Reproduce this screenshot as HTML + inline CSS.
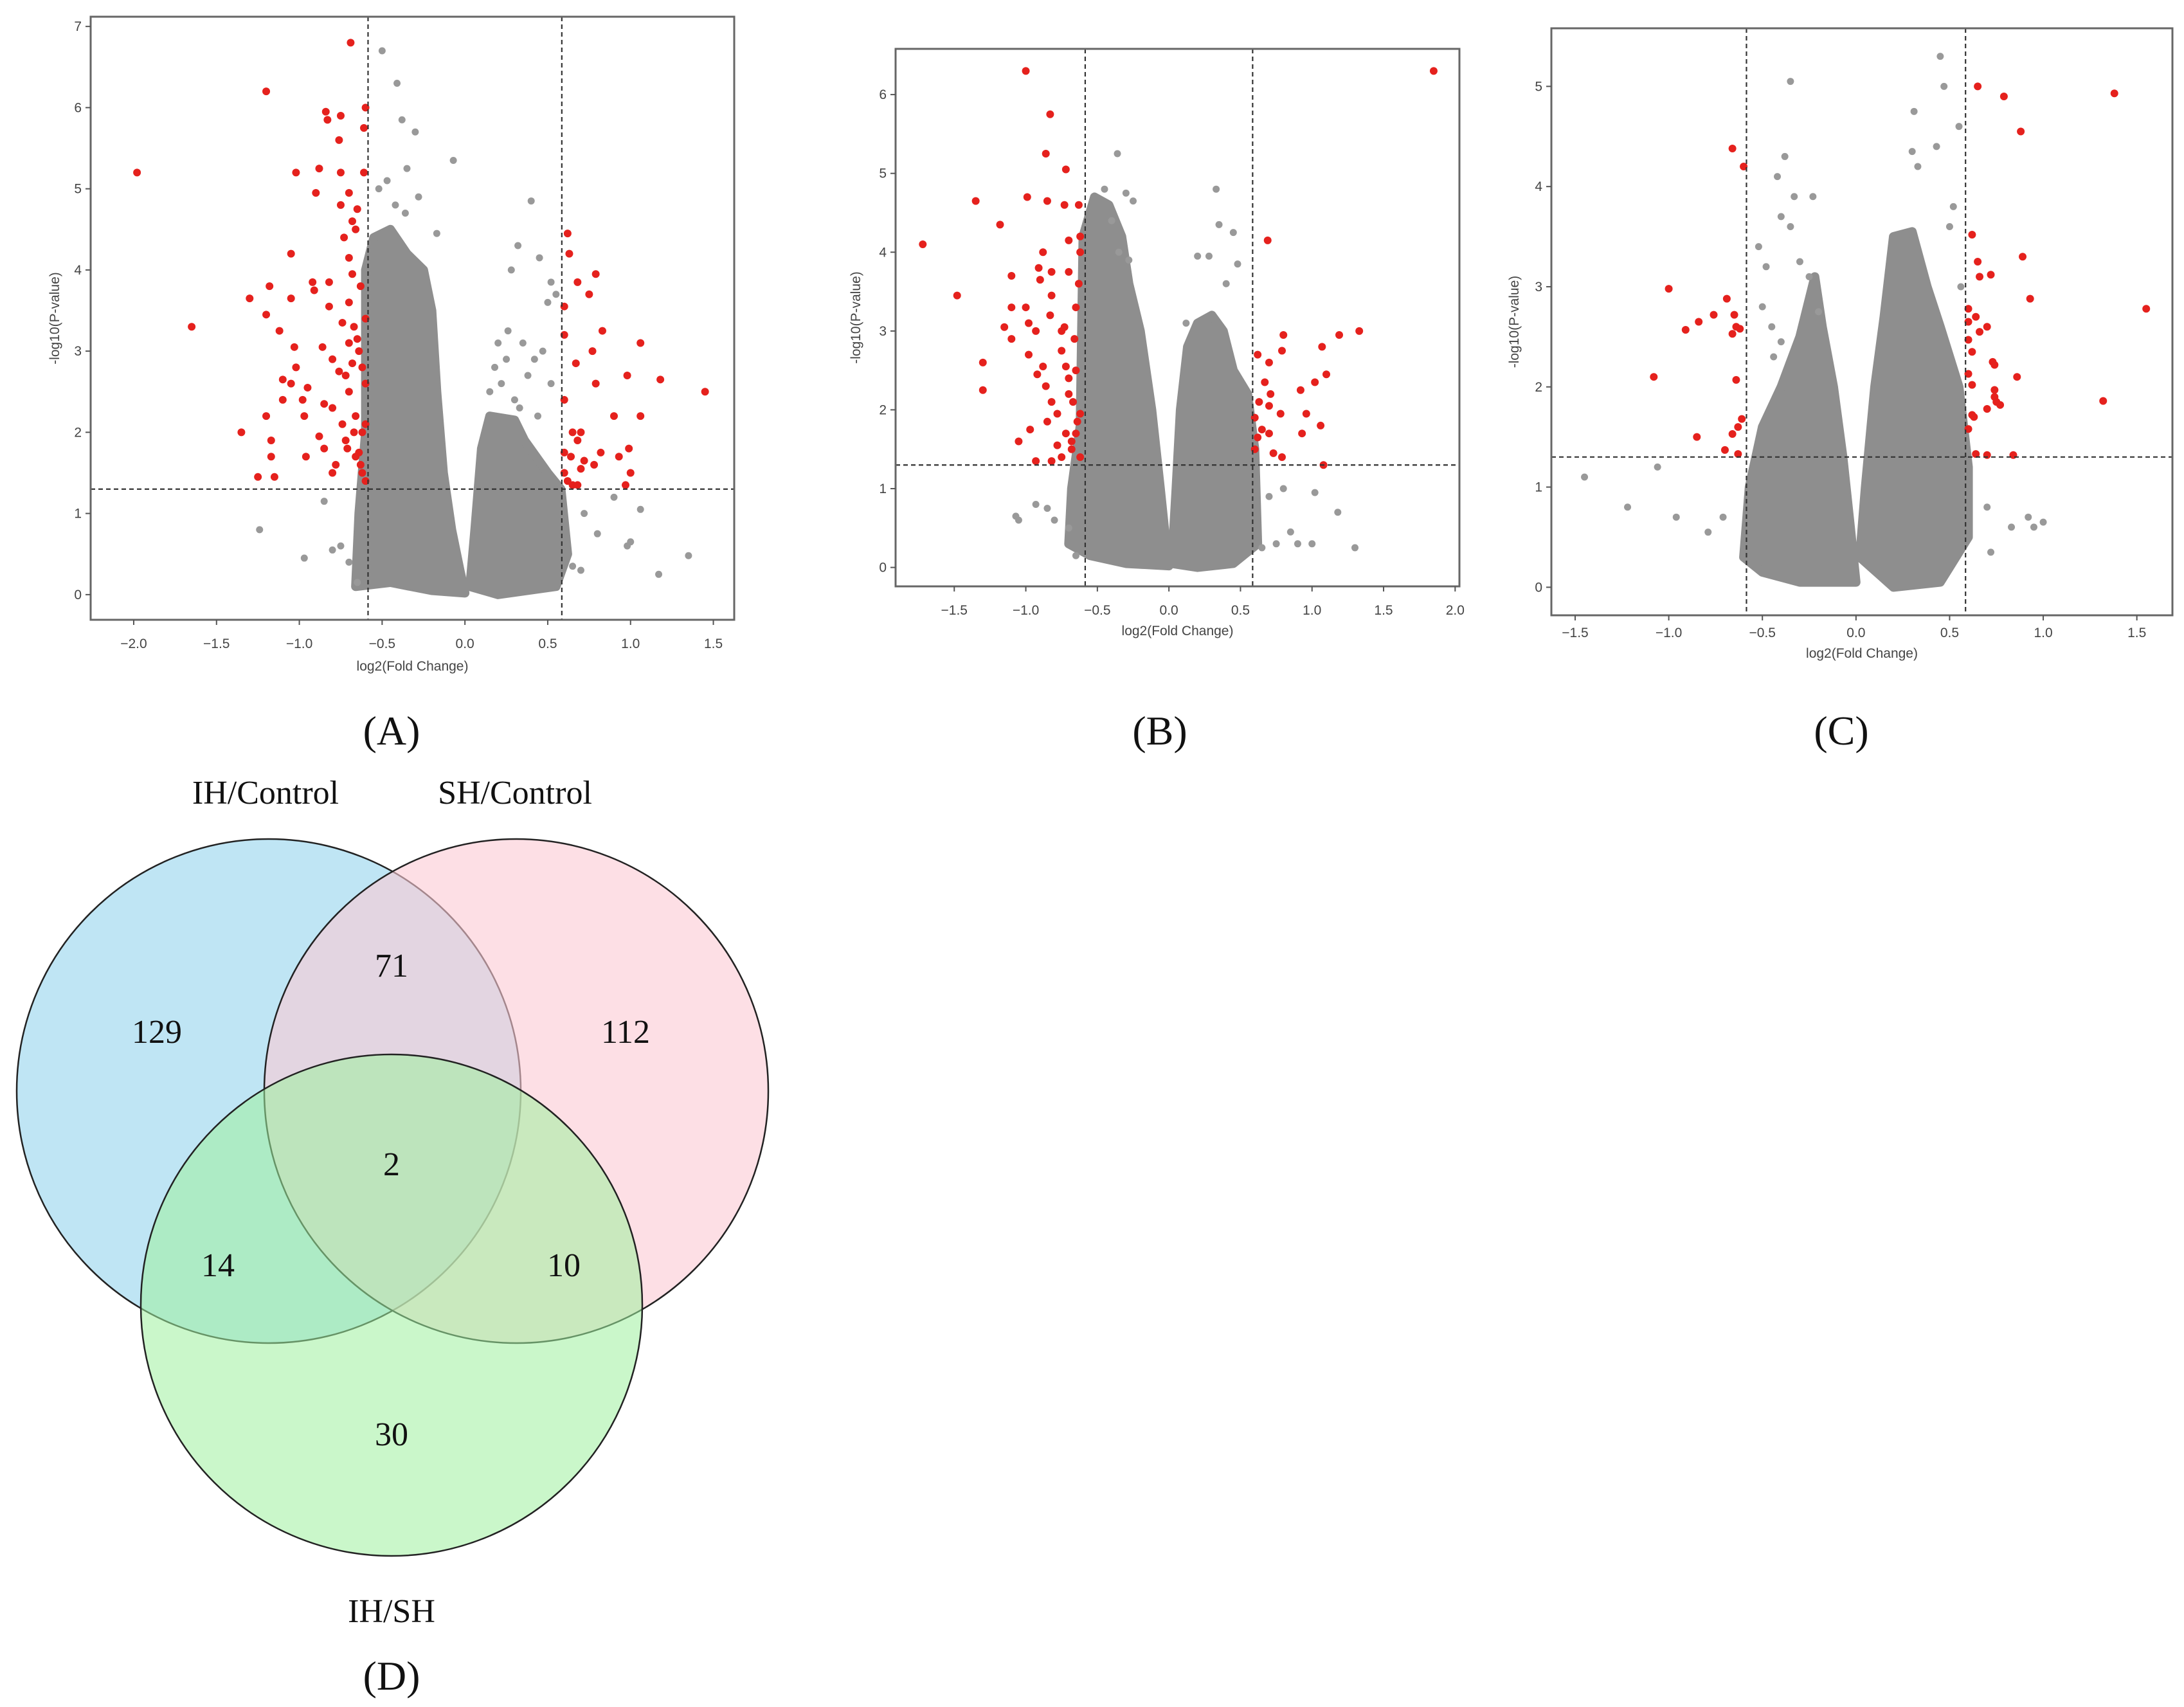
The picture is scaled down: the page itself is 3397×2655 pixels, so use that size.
<!DOCTYPE html>
<html><head><meta charset="utf-8"><style>
html,body{margin:0;padding:0;background:#fff}
svg{display:block}
</style></head><body>
<svg id="fig" width="3397" height="2655" viewBox="0 0 3397 2655" xmlns="http://www.w3.org/2000/svg">
<rect width="3397" height="2655" fill="#fff"/>
<g id="venn">
 <circle cx="418" cy="1697" r="392" fill="#a9dcf0" fill-opacity="0.75" stroke="#222" stroke-width="2.5"/>
 <circle cx="803" cy="1697" r="392" fill="#fbc9d3" fill-opacity="0.6" stroke="#222" stroke-width="2.5"/>
 <circle cx="609" cy="2030" r="390" fill="#9ef09e" fill-opacity="0.55" stroke="#222" stroke-width="2.5"/>
 <g font-family="Liberation Serif, serif" font-size="52" text-anchor="middle" fill="#111">
  <text x="413" y="1250">IH/Control</text>
  <text x="801" y="1250">SH/Control</text>
  <text x="609" y="2523">IH/SH</text>
  <text x="244" y="1622">129</text>
  <text x="609" y="1519">71</text>
  <text x="973" y="1622">112</text>
  <text x="609" y="1828">2</text>
  <text x="339" y="1985">14</text>
  <text x="877" y="1985">10</text>
  <text x="609" y="2248">30</text>
 </g>
</g>
<g font-family="Liberation Serif, serif" font-size="64" text-anchor="middle" fill="#111">
 <text x="609" y="1158">(A)</text>
 <text x="1804" y="1158">(B)</text>
 <text x="2864" y="1158">(C)</text>
 <text x="609" y="2628">(D)</text>
</g>
</svg>
<script>
// ---- Panel A data ----
const aRedX=[-1.98,-1.2,-0.69,-1.65,-1.35,-1.3,-1.25,-1.2,-1.2,-1.18,-1.17,-1.17,-1.15,-1.12,-1.1,-1.1,-1.05,-1.05,-1.05,-1.03,-1.02,-1.02,-0.98,-0.97,-0.96,-0.95,-0.92,-0.91,-0.9,-0.88,-0.88,-0.86,-0.85,-0.85,-0.84,-0.83,-0.82,-0.82,-0.8,-0.8,-0.8,-0.78,-0.76,-0.75,-0.75,-0.75,-0.74,-0.73,-0.72,-0.7,-0.7,-0.7,-0.7,-0.68,-0.68,-0.67,-0.66,-0.66,-0.65,-0.65,-0.63,-0.62,-0.62,-0.6,-0.61,-0.61,-0.6,-0.6,-0.6,-0.6,-0.64,-0.66,-0.7,-0.72,-0.76,-0.62,-0.64,-0.68,-0.71,-0.74,-0.63,-0.67,0.62,0.63,0.68,0.79,0.75,0.6,0.6,0.83,1.06,0.77,0.67,0.98,1.18,1.45,0.79,0.6,0.9,1.06,0.65,0.7,0.68,0.6,0.82,0.93,0.99,0.72,0.78,0.64,0.7,1.0,0.97,0.62,0.65,0.68,0.6];
const aRedY=[5.2,6.2,6.8,3.3,2.0,3.65,1.45,3.45,2.2,3.8,1.9,1.7,1.45,3.25,2.65,2.4,4.2,3.65,2.6,3.05,5.2,2.8,2.4,2.2,1.7,2.55,3.85,3.75,4.95,5.25,1.95,3.05,2.35,1.8,5.95,5.85,3.85,3.55,2.9,2.3,1.5,1.6,5.6,5.2,4.8,5.9,3.35,4.4,2.7,4.95,4.15,3.6,2.5,4.6,3.95,2.0,4.5,1.7,3.15,4.75,3.8,2.8,1.5,6.0,5.75,5.2,3.4,2.6,2.1,1.4,3.0,2.2,3.1,1.9,2.75,2.0,1.75,2.85,1.8,2.1,1.6,3.3,4.45,4.2,3.85,3.95,3.7,3.55,3.2,3.25,3.1,3.0,2.85,2.7,2.65,2.5,2.6,2.4,2.2,2.2,2.0,2.0,1.9,1.75,1.75,1.7,1.8,1.65,1.6,1.7,1.55,1.5,1.35,1.4,1.35,1.35,1.5];
const aGreyX=[-0.5,-0.41,-0.38,-0.3,-0.07,-0.35,-0.28,-0.17,0.4,0.32,0.45,0.52,0.55,0.5,0.26,0.28,0.35,0.42,0.18,0.2,0.52,-1.24,-0.97,-0.8,-0.65,-0.7,0.8,1.0,1.06,0.98,1.17,1.35,0.7,0.65,0.72,0.9,-0.85,-0.75,0.15,0.3,0.22,0.38,0.47,0.33,0.25,0.44,-0.47,-0.42,-0.36,-0.52];
const aGreyY=[6.7,6.3,5.85,5.7,5.35,5.25,4.9,4.45,4.85,4.3,4.15,3.85,3.7,3.6,3.25,4.0,3.1,2.9,2.8,3.1,2.6,0.8,0.45,0.55,0.15,0.4,0.75,0.65,1.05,0.6,0.25,0.48,0.3,0.35,1.0,1.2,1.15,0.6,2.5,2.4,2.6,2.7,3.0,2.3,2.9,2.2,5.1,4.8,4.7,5.0];
const aLeftLobe=[[-0.66,0.1],[-0.64,1.0],[-0.6,2.0],[-0.6,4.0],[-0.55,4.4],[-0.45,4.5],[-0.35,4.2],[-0.25,4.0],[-0.2,3.5],[-0.17,2.5],[-0.13,1.5],[-0.08,0.8],[-0.03,0.3],[0,0.02],[-0.2,0.05],[-0.45,0.15]];
const aRightLobe=[[0.03,0.1],[0.06,0.8],[0.1,1.8],[0.15,2.2],[0.3,2.15],[0.36,1.9],[0.5,1.5],[0.58,1.3],[0.62,0.5],[0.55,0.1],[0.2,0.0]];
const aXTicks=[-2.0,-1.5,-1.0,-0.5,0.0,0.5,1.0,1.5];
const aYTicks=[0,1,2,3,4,5,6,7];
// ---- Panel B data ----
const bRedX=[1.85,-1.0,-0.83,-0.86,-0.72,-0.99,-1.35,-0.85,-0.73,-0.63,-1.18,-1.72,-0.7,-0.62,0.69,-0.88,-0.62,-1.1,-0.91,-0.82,-0.7,-0.9,-1.48,-0.82,-1.1,-1.0,-0.83,-0.65,-1.15,-0.98,-0.93,-0.75,-1.1,-0.98,-0.75,-1.3,-0.88,-0.72,-0.65,-0.92,-1.3,-0.86,-0.7,-0.82,-0.67,-0.78,-0.62,-0.85,-0.97,-0.72,-0.65,-1.05,-0.78,-0.68,-0.75,-0.62,-0.93,-0.82,-0.63,-0.66,-0.7,-0.64,-0.68,-0.73,0.8,1.19,1.33,1.07,0.79,0.62,0.7,1.1,0.67,1.02,0.92,0.71,0.63,0.7,0.78,0.96,0.6,1.06,0.65,0.7,0.93,0.62,0.73,0.79,1.08,0.6];
const bRedY=[6.3,6.3,5.75,5.25,5.05,4.7,4.65,4.65,4.6,4.6,4.35,4.1,4.15,4.2,4.15,4.0,4.0,3.7,3.8,3.75,3.75,3.65,3.45,3.45,3.3,3.3,3.2,3.3,3.05,3.1,3.0,3.0,2.9,2.7,2.75,2.6,2.55,2.55,2.5,2.45,2.25,2.3,2.2,2.1,2.1,1.95,1.95,1.85,1.75,1.7,1.7,1.6,1.55,1.5,1.4,1.4,1.35,1.35,3.6,2.9,2.4,1.85,1.6,3.05,2.95,2.95,3.0,2.8,2.75,2.7,2.6,2.45,2.35,2.35,2.25,2.2,2.1,2.05,1.95,1.95,1.9,1.8,1.75,1.7,1.7,1.65,1.45,1.4,1.3,1.5];
const bGreyX=[-0.36,0.33,0.35,0.45,-0.45,-0.3,-0.25,0.2,0.28,0.48,0.4,-0.93,-1.07,-1.05,-0.85,-0.8,0.65,0.75,0.85,0.9,1.0,1.18,1.3,0.7,0.8,1.02,-0.7,-0.65,-0.4,-0.35,-0.28,0.12];
const bGreyY=[5.25,4.8,4.35,4.25,4.8,4.75,4.65,3.95,3.95,3.85,3.6,0.8,0.65,0.6,0.75,0.6,0.25,0.3,0.45,0.3,0.3,0.7,0.25,0.9,1.0,0.95,0.5,0.15,4.4,4.0,3.9,3.1];
const bLeftLobe=[[-0.7,0.3],[-0.68,1.0],[-0.62,1.8],[-0.6,4.2],[-0.52,4.7],[-0.42,4.6],[-0.33,4.2],[-0.28,3.6],[-0.2,3.0],[-0.12,2.0],[-0.06,1.0],[-0.02,0.3],[0,0.02],[-0.3,0.05],[-0.55,0.15]];
const bRightLobe=[[0.02,0.05],[0.05,1.0],[0.08,2.0],[0.13,2.8],[0.2,3.1],[0.3,3.2],[0.38,3.0],[0.45,2.5],[0.55,2.2],[0.6,1.5],[0.62,0.3],[0.45,0.05],[0.2,0.0]];
const bXTicks=[-1.5,-1.0,-0.5,0.0,0.5,1.0,1.5,2.0];
const bYTicks=[0,1,2,3,4,5,6];
// ---- Panel C data ----
const cRedX=[0.65,0.79,1.38,0.88,-0.66,-0.6,0.62,0.89,0.65,0.72,0.66,-1.0,0.93,-0.69,1.55,0.6,-0.76,-0.65,0.64,-0.84,0.6,-0.91,-0.64,-0.62,-0.66,0.7,0.66,0.6,0.62,0.73,0.74,0.6,-1.08,0.86,-0.64,0.62,0.74,0.74,1.32,0.75,0.77,0.7,0.62,0.63,-0.61,-0.63,0.6,-0.66,-0.85,-0.7,-0.63,0.64,0.7,0.84];
const cRedY=[5.0,4.9,4.93,4.55,4.38,4.2,3.52,3.3,3.25,3.12,3.1,2.98,2.88,2.88,2.78,2.78,2.72,2.72,2.7,2.65,2.65,2.57,2.6,2.58,2.53,2.6,2.55,2.47,2.35,2.25,2.22,2.13,2.1,2.1,2.07,2.02,1.97,1.9,1.86,1.85,1.82,1.78,1.72,1.7,1.68,1.6,1.58,1.53,1.5,1.37,1.33,1.33,1.32,1.32];
const cGreyX=[0.45,0.47,-0.35,0.31,0.55,0.43,-0.38,0.3,0.33,-0.42,-0.33,-0.23,-0.4,-0.35,-0.52,-0.48,-0.3,-1.45,-1.22,-0.96,-1.06,-0.79,-0.71,0.95,0.92,1.0,0.7,0.72,0.83,-0.5,-0.45,-0.25,-0.2,-0.44,-0.4,0.5,0.52,0.56];
const cGreyY=[5.3,5.0,5.05,4.75,4.6,4.4,4.3,4.35,4.2,4.1,3.9,3.9,3.7,3.6,3.4,3.2,3.25,1.1,0.8,0.7,1.2,0.55,0.7,0.6,0.7,0.65,0.8,0.35,0.6,2.8,2.6,3.1,2.75,2.3,2.45,3.6,3.8,3.0];
const cLeftLobe=[[-0.6,0.3],[-0.57,1.0],[-0.5,1.6],[-0.4,2.0],[-0.3,2.5],[-0.22,3.1],[-0.18,2.6],[-0.12,2.0],[-0.07,1.3],[-0.03,0.6],[0,0.05],[-0.3,0.05],[-0.5,0.15]];
const cRightLobe=[[0.02,0.3],[0.05,1.0],[0.1,2.0],[0.15,2.7],[0.2,3.5],[0.3,3.55],[0.38,3.0],[0.45,2.6],[0.55,2.0],[0.6,1.2],[0.6,0.5],[0.45,0.05],[0.2,0.0]];
const cXTicks=[-1.5,-1.0,-0.5,0.0,0.5,1.0,1.5];
const cYTicks=[0,1,2,3,4,5];

const NS='http://www.w3.org/2000/svg';
const svg=document.getElementById('fig');
function mk(tag,attrs,parent){const e=document.createElementNS(NS,tag);for(const k in attrs)e.setAttribute(k,attrs[k]);parent.appendChild(e);return e;}

function panel(id,f,dom,xt,yt,lobes,gx,gy,rx,ry,xLabelY,xTitleY,yTitleX){
 const g=mk('g',{},svg);
 
 
 const X=v=>f.x0+(v-dom.x0)/(dom.x1-dom.x0)*(f.x1-f.x0);
 const Y=v=>f.y1-(v-dom.y0)/(dom.y1-dom.y0)*(f.y1-f.y0);
 lobes.forEach((lb,i)=>{
  const p=mk('polygon',{points:lb.map(q=>X(q[0])+','+Y(q[1])).join(' '),fill:'#8e8e8e',stroke:'#8e8e8e','stroke-width':14,'stroke-linejoin':'round'},g);
  
  
 });
 for(let i=0;i<gx.length;i++){
  const c=mk('circle',{cx:X(gx[i]),cy:Y(gy[i]),r:5.5,fill:'#999'},g);
  
  
 }
 for(let i=0;i<rx.length;i++){
  const c=mk('circle',{cx:X(rx[i]),cy:Y(ry[i]),r:6,fill:'#e5211d'},g);
  
  
 }
 const dash={stroke:'#333','stroke-width':2.2,'stroke-dasharray':'7,5'};
 [-0.585,0.585].forEach(v=>{const l=mk('line',Object.assign({x1:X(v),x2:X(v),y1:f.y0,y2:f.y1},dash),g);
  });
 const h=mk('line',Object.assign({x1:f.x0,x2:f.x1,y1:Y(1.3),y2:Y(1.3)},dash),g);
 
 const fr=mk('rect',{x:f.x0,y:f.y0,width:f.x1-f.x0,height:f.y1-f.y0,fill:'none',stroke:'#666','stroke-width':3},g);
 
 xt.forEach(v=>{
  mk('line',{x1:X(v),x2:X(v),y1:f.y1,y2:f.y1+8,stroke:'#555','stroke-width':2},g);
  const t=mk('text',{x:X(v),y:xLabelY,'text-anchor':'middle','font-family':'Liberation Sans, sans-serif','font-size':21,fill:'#444'},g);
  t.textContent=(v<0?'\u2212':'')+Math.abs(v).toFixed(1);
  
 });
 yt.forEach(v=>{
  mk('line',{x1:f.x0-8,x2:f.x0,y1:Y(v),y2:Y(v),stroke:'#555','stroke-width':2},g);
  const t=mk('text',{x:f.x0-14,y:Y(v)+7,'text-anchor':'end','font-family':'Liberation Sans, sans-serif','font-size':21,fill:'#444'},g);
  t.textContent=String(v);
  
 });
 const xt2=mk('text',{x:(f.x0+f.x1)/2,y:xTitleY,'text-anchor':'middle','font-family':'Liberation Sans, sans-serif','font-size':21,fill:'#444'},g);
 xt2.textContent='log2(Fold Change)';
 
 const cy=(f.y0+f.y1)/2;
 const yt2=mk('text',{x:yTitleX,y:cy,'text-anchor':'middle','font-family':'Liberation Sans, sans-serif','font-size':21,fill:'#444',transform:'rotate(-90 '+yTitleX+' '+cy+')'},g);
 yt2.textContent='-log10(P-value)';
 
}
panel('a',{x0:141,x1:1142,y0:26,y1:964},{x0:-2.26,x1:1.626,y0:-0.31,y1:7.12},aXTicks,aYTicks,[aLeftLobe,aRightLobe],aGreyX,aGreyY,aRedX,aRedY,1008,1043,92);
panel('b',{x0:1393,x1:2270,y0:76,y1:912},{x0:-1.91,x1:2.03,y0:-0.24,y1:6.58},bXTicks,bYTicks,[bLeftLobe,bRightLobe],bGreyX,bGreyY,bRedX,bRedY,956,988,1338);
panel('c',{x0:2413,x1:3379,y0:44,y1:957},{x0:-1.627,x1:1.69,y0:-0.28,y1:5.58},cXTicks,cYTicks,[cLeftLobe,cRightLobe],cGreyX,cGreyY,cRedX,cRedY,991,1023,2362);
</script>
</body></html>
